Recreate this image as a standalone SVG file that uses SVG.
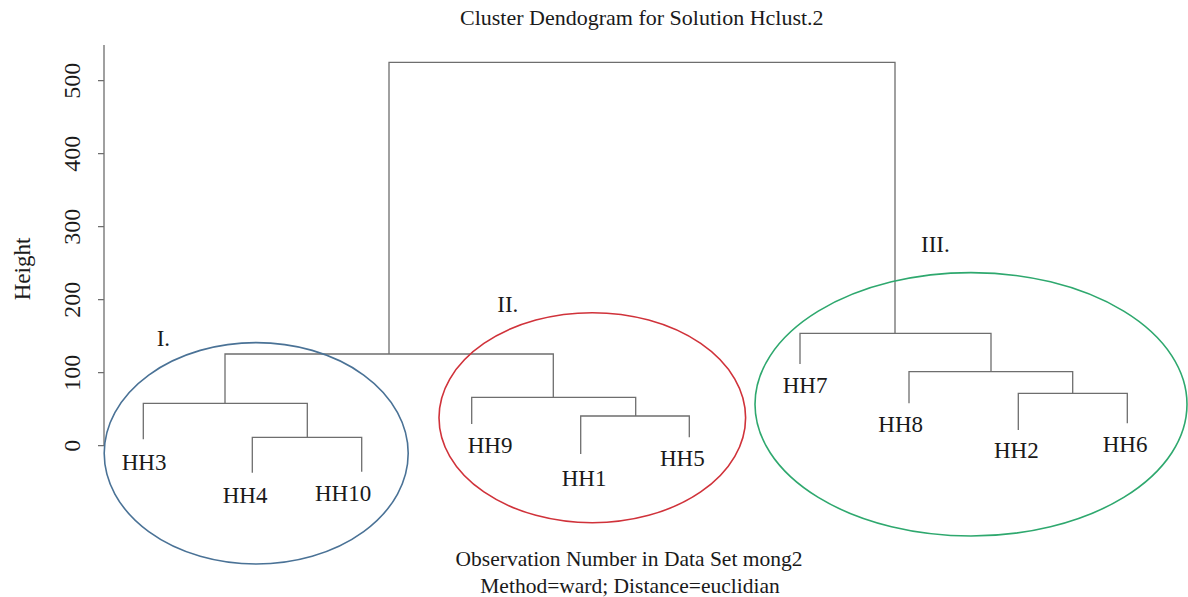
<svg xmlns="http://www.w3.org/2000/svg" width="1188" height="597" viewBox="0 0 1188 597">
  <style>
    text { font-family: "Liberation Serif", "Times New Roman", serif; fill: #1a1a1a; }
    .title { font-size: 22px; }
    .sub { font-size: 21.5px; text-anchor: middle; }
    .tick { font-size: 24px; text-anchor: middle; }
    .leaf { font-size: 23px; }
    .roman { font-size: 23px; }
    .axis, .branch { fill: none; stroke: #6e6e6e; stroke-width: 1.3; }
    .ring { fill: none; stroke-width: 1.6; }
  </style>

  <rect width="1188" height="597" fill="#ffffff"/>

  <!-- titles -->
  <text class="title" x="460" y="25">Cluster Dendogram for Solution Hclust.2</text>
  <text class="sub" x="629" y="566">Observation Number in Data Set mong2</text>
  <text class="sub" x="630" y="593">Method=ward; Distance=euclidian</text>

  <!-- y axis -->
  <g id="axis">
    <path class="axis" d="M104,45 V445.7 M98,445.7 H104 M98,372.7 H104 M98,299.7 H104 M98,226.7 H104 M98,153.7 H104 M98,80.7 H104"/>
    <text class="tick" transform="translate(80,445.7) rotate(-90)">0</text>
    <text class="tick" transform="translate(80,372.7) rotate(-90)">100</text>
    <text class="tick" transform="translate(80,299.7) rotate(-90)">200</text>
    <text class="tick" transform="translate(80,226.7) rotate(-90)">300</text>
    <text class="tick" transform="translate(80,153.7) rotate(-90)">400</text>
    <text class="tick" transform="translate(80,80.7) rotate(-90)">500</text>
    <text class="tick" transform="translate(30,269) rotate(-90)" style="font-size:23px">Height</text>
  </g>

  <!-- dendrogram branches -->
  <g id="connectors">
    <path class="branch" d="M389,354 V62.3 H895 V333.3"/>
    <path class="branch" d="M225,403.3 V354 H553.3 V397.3"/>
    <path class="branch" d="M143.3,439.3 V403.3 H307.3 V437.3"/>
    <path class="branch" d="M252.3,472.7 V437.3 H361.7 V471.7"/>
    <path class="branch" d="M471.7,424 V397.3 H635.7 V416"/>
    <path class="branch" d="M580.7,454 V416 H689.3 V437.3"/>
    <path class="branch" d="M800,364 V333.3 H991 V371.7"/>
    <path class="branch" d="M909,403.3 V371.7 H1072.7 V393.3"/>
    <path class="branch" d="M1018.3,430 V393.3 H1127.3 V423.3"/>
  </g>

  <!-- leaves -->
  <g id="HH3"><text class="leaf" x="121.7" y="470">HH3</text></g>
  <g id="HH4"><text class="leaf" x="222.7" y="502.7">HH4</text></g>
  <g id="HH10"><text class="leaf" x="315" y="501">HH10</text></g>
  <g id="HH9"><text class="leaf" x="467.7" y="452.7">HH9</text></g>
  <g id="HH1"><text class="leaf" x="561.7" y="485.7">HH1</text></g>
  <g id="HH5"><text class="leaf" x="660" y="466">HH5</text></g>
  <g id="HH7"><text class="leaf" x="782.7" y="392.7">HH7</text></g>
  <g id="HH8"><text class="leaf" x="878.3" y="431.7">HH8</text></g>
  <g id="HH2"><text class="leaf" x="994" y="458.3">HH2</text></g>
  <g id="HH6"><text class="leaf" x="1102.7" y="451.7">HH6</text></g>

  <!-- cluster outlines -->
  <g id="cluster-I">
    <ellipse class="ring" cx="256.2" cy="453.3" rx="152" ry="110.7" stroke="#4a7296"/>
    <text class="roman" x="156.7" y="345.7">I.</text>
  </g>
  <g id="cluster-II">
    <ellipse class="ring" cx="592.3" cy="417.7" rx="153.3" ry="105" stroke="#d0323a"/>
    <text class="roman" x="497.3" y="312.3">II.</text>
  </g>
  <g id="cluster-III">
    <ellipse class="ring" cx="971" cy="404.3" rx="216" ry="131.7" stroke="#2ea86e"/>
    <text class="roman" x="921" y="251.7">III.</text>
  </g>
</svg>
